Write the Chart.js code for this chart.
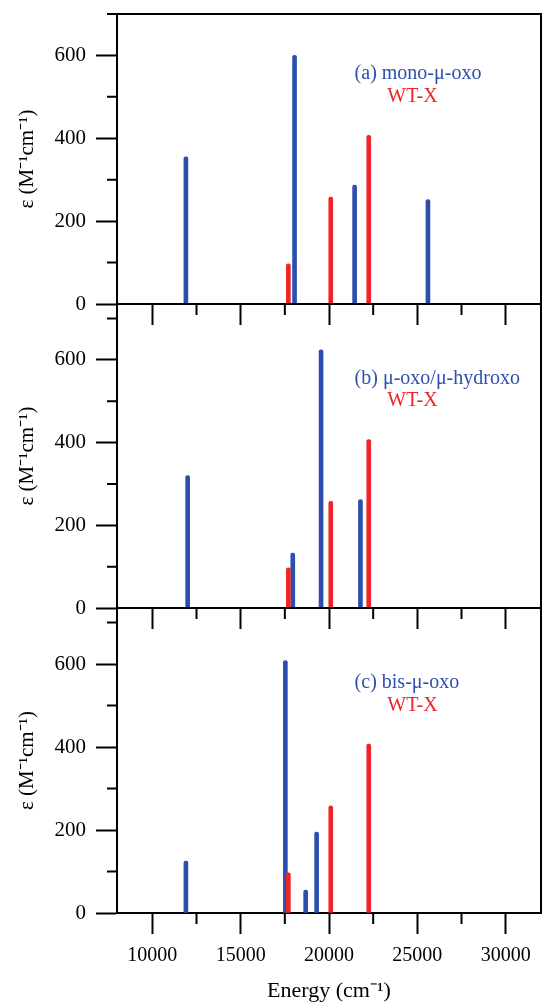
<!DOCTYPE html>
<html>
<head>
<meta charset="utf-8">
<script src="https://cdn.jsdelivr.net/npm/chart.js@4/dist/chart.umd.min.js"></script>
<style>
  html, body { margin:0; padding:0; background:#fff; overflow:hidden; }
  #wrap { position:relative; width:542px; height:1002px; overflow:hidden; }
  #wrap canvas { position:absolute; left:0; top:0; }
  #panelA { top:-30px !important; }
</style>
</head>
<body>
<div id="wrap">
  <canvas id="panelA" width="542" height="1002"></canvas>
  <canvas id="panelB" width="542" height="1002"></canvas>
  <canvas id="panelC" width="542" height="1002"></canvas>
</div>
<script>
// ── Data (energy in cm-1, epsilon in M-1 cm-1) ──────────────────
const wtxEnergy     = [17700, 20100, 22250];
const wtxEps        = [97, 258, 407];
const monoEnergy    = [11900, 18050, 21450, 25600];
const monoEps       = [355, 600, 287, 252];
const hydroxoEnergy = [12000, 17950, 19550, 21780];
const hydroxoEps    = [320, 133, 624, 262];
const bisEnergy     = [11900, 17530, 18680, 19300];
const bisEps        = [125, 608, 55, 195];

const xTicks = [10000, 15000, 20000, 25000, 30000];
const xMinor = [12500, 17500, 22500, 27500];
const yTicks = [0, 200, 400, 600];
const yMinor = [100, 300, 500, 700];

// ── Styles ──────────────────────────────────────────────────────
const SERIF = '"Liberation Serif", "Times New Roman", serif';
const BLUE = '#2c4fae';
const RED  = '#ee2426';

const pts = (xs, ys) => xs.map((x, i) => ({ x, y: ys[i] }));

// frame, minor ticks and in-panel labels
const framePlugin = {
  id: 'frame',
  afterDraw(chart, args, o) {
    const { ctx, chartArea: a, scales: { x, y } } = chart;
    ctx.save();
    ctx.strokeStyle = '#000';
    ctx.lineWidth = 2;
    ctx.beginPath();
    ctx.moveTo(a.left, a.top); ctx.lineTo(a.right, a.top); ctx.lineTo(a.right, a.bottom);
    xMinor.forEach(v => {
      const px = x.getPixelForValue(v);
      ctx.moveTo(px, a.bottom); ctx.lineTo(px, a.bottom + 11);
    });
    yMinor.forEach(v => {
      if (v > y.max) return;
      const py = y.getPixelForValue(v);
      ctx.moveTo(a.left, py); ctx.lineTo(a.left - 10, py);
    });
    ctx.stroke();

    ctx.font = '20px ' + SERIF;
    ctx.textBaseline = 'middle';
    ctx.textAlign = 'left';
    ctx.fillStyle = BLUE;
    ctx.fillText(o.name, x.getPixelForValue(21450), y.getPixelForValue(555));
    ctx.fillStyle = RED;
    ctx.fillText('WT-X', x.getPixelForValue(23300), y.getPixelForValue(500));
    ctx.restore();
  }
};

const axisGrid = { drawOnChartArea:false, tickLength:21, tickWidth:2, tickColor:'#000', color:'#000', offset:false };
const axisBorder = { display:true, color:'#000', width:2 };

function makePanel(id, p) {
  return new Chart(document.getElementById(id), {
    type: 'bar',
    data: {
      datasets: [
        { label:'WT-X', data: pts(wtxEnergy, wtxEps), backgroundColor: RED },
        { label: p.name, data: pts(p.energy, p.eps), backgroundColor: BLUE }
      ]
    },
    options: {
      responsive: false,
      animation: false,
      datasets: { bar: { barThickness:4, grouped:false, borderRadius:2, borderSkipped:'start' } },
      layout: { padding: { top:p.top, right:1, bottom:p.bottom, left:0 } },
      plugins: {
        legend: { display:false },
        tooltip: { enabled:false },
        frame: { name: p.name }
      },
      scales: {
        x: {
          type: 'linear', min: 8000, max: 32000, offset: false,
          afterBuildTicks: s => { s.ticks = xTicks.map(v => ({ value:v })); },
          afterFit: p.showX ? (s => { s.height = 89; }) : undefined,
          grid: axisGrid,
          border: axisBorder,
          ticks: { display: p.showX, color:'#000', font:{ family:SERIF, size:20 }, padding:10,
                   maxRotation:0, autoSkip:false, callback: v => String(v) },
          title: { display: p.showX, text:'Energy (cm⁻¹)', color:'#000',
                   font:{ family:SERIF, size:22, lineHeight:1 }, padding:0 }
        },
        y: {
          min: 0, max: p.ymax,
          afterBuildTicks: s => { s.ticks = yTicks.map(v => ({ value:v })); },
          afterFit: s => { s.width = 117; },
          grid: axisGrid,
          border: axisBorder,
          ticks: { color:'#000', font:{ family:SERIF, size:21 }, padding:10, callback: v => String(v) },
          title: { display:true, text:'ε (M⁻¹cm⁻¹)', color:'#000',
                   font:{ family:SERIF, size:21, lineHeight:1.2 }, padding:{ top:15, bottom:0 } }
        }
      }
    },
    plugins: [framePlugin]
  });
}

// panel A canvas is shifted up 30px, so its paddings are offset by 30
makePanel('panelA', { name:'(a) mono-μ-oxo', energy:monoEnergy, eps:monoEps,
  ymax:700, top:44, bottom:647, showX:false });
makePanel('panelB', { name:'(b) μ-oxo/μ-hydroxo', energy:hydroxoEnergy, eps:hydroxoEps,
  ymax:735, top:304, bottom:373, showX:false });
makePanel('panelC', { name:'(c) bis-μ-oxo', energy:bisEnergy, eps:bisEps,
  ymax:735, top:608, bottom:0, showX:true });
</script>
</body>
</html>
